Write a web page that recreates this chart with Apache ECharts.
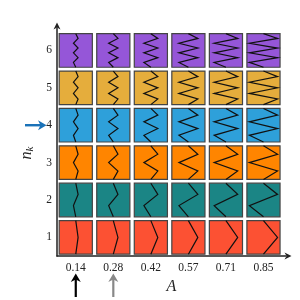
<!DOCTYPE html>
<html>
<head>
<meta charset="utf-8">
<script src="https://cdn.jsdelivr.net/npm/echarts@6/dist/echarts.min.js"></script>
<style>html,body{margin:0;padding:0;background:#fff}#c{width:300px;height:300px}</style>
</head>
<body>
<div id="c"></div>
<script>
// ---- data ----
const A_values = [0.14, 0.28, 0.42, 0.57, 0.71, 0.85];
const A_labels = ['0.14', '0.28', '0.42', '0.57', '0.71', '0.85'];
const n_values = [1, 2, 3, 4, 5, 6];
const n_labels = ['1', '2', '3', '4', '5', '6'];
const rowColors = ['#FC5133', '#1B8585', '#FF8500', '#2EA0DA', '#E5AD3C', '#9556D8'];
const markedRow = 4;            // n_k marked by the blue arrow
const markedCols = [0.14, 0.28]; // A values marked by arrows below
const markedColColors = ['#000000', '#888888'];

const cells = [];
A_values.forEach((a, i) => {
  n_values.forEach((n, j) => {
    cells.push([i, j, n, a]);
  });
});

const serif = "'Liberation Serif', 'DejaVu Serif', serif";
const chart = echarts.init(document.getElementById('c'), null, {renderer: 'canvas'});
const arrowPath = 'path://M5,0 L10,10 L5,7 L0,10 Z';

chart.setOption({
  animation: false,
  grid: {left: 57, right: 14, top: 28, bottom: 42},
  xAxis: {
    type: 'value', min: -0.5, max: 5.6,
    splitLine: {show: false},
    axisTick: {show: false},
    axisLine: {show: true, onZero: false, lineStyle: {color: '#222', width: 1.5}, symbol: ['none', arrowPath], symbolSize: [7, 8], symbolOffset: [0, 2]},
    axisLabel: {customValues: [0, 1, 2, 3, 4, 5], formatter: v => A_labels[Math.round(v)], fontFamily: serif, fontSize: 11.5, color: '#222', margin: 6},
    name: 'A', nameLocation: 'middle', nameGap: 22,
    nameTextStyle: {fontFamily: serif, fontStyle: 'italic', fontSize: 16, color: '#222'}
  },
  yAxis: {
    type: 'value', min: -0.5, max: 5.6,
    splitLine: {show: false},
    axisTick: {show: false},
    axisLine: {show: true, onZero: false, lineStyle: {color: '#222', width: 1.5}, symbol: ['none', arrowPath], symbolSize: [7, 8], symbolOffset: [0, 2]},
    axisLabel: {customValues: [0, 1, 2, 3, 4, 5], formatter: v => n_labels[Math.round(v)], fontFamily: serif, fontSize: 11.5, color: '#222', margin: 5},
    name: '{n|n}{k|k}', nameLocation: 'middle', nameGap: 17, nameRotate: 90,
    nameTextStyle: {
      padding: [0, 22, 0, 0],
      rich: {
        n: {fontFamily: serif, fontStyle: 'italic', fontSize: 16, color: '#222', lineHeight: 18, verticalAlign: 'middle'},
        k: {fontFamily: serif, fontStyle: 'italic', fontSize: 11, color: '#222', lineHeight: 18, verticalAlign: 'bottom', padding: [6, 0, 0, 0]}
      }
    }
  },
  series: [{
    type: 'custom',
    coordinateSystem: 'cartesian2d',
    data: cells,
    encode: {x: 0, y: 1},
    renderItem: function (params, api) {
      const col = api.value(0), row = api.value(1);
      const n = api.value(2), A = api.value(3);
      const c = api.coord([col, row]);
      const s = api.size([1, 1]);
      const w = s[0] - 4.4, h = s[1] - 3.8;
      const x0 = c[0] - w / 2, y0 = c[1] - h / 2;
      const pts = [];
      for (let k = 0; k <= n + 1; k++) {
        const off = (k === 0 || k === n + 1) ? 0 : (k % 2 === 1 ? 1 : -1) * A * w / 2;
        pts.push([c[0] + off, y0 + h * k / (n + 1)]);
      }
      return {
        type: 'group',
        children: [
          {type: 'rect', shape: {x: x0, y: y0, width: w, height: h},
           style: {fill: rowColors[row], stroke: '#444', lineWidth: 1.2}},
          {type: 'polyline', shape: {points: pts},
           style: {stroke: '#111', lineWidth: 1.2, fill: null}}
        ]
      };
    }
  }]
});

// annotation arrows, positioned through the axes
const gr = [];
markedCols.forEach((a, idx) => {
  const ci = A_values.indexOf(a);
  const x = chart.convertToPixel({xAxisIndex: 0}, ci);
  const col = markedColColors[idx];
  gr.push({type: 'line', shape: {x1: x, y1: 297, x2: x, y2: 278}, style: {stroke: col, lineWidth: 2.2}});
  gr.push({type: 'polygon', shape: {points: [[x - 5, 282], [x, 273.5], [x + 5, 282], [x, 279.5]]}, style: {fill: col}});
});
const ri = n_values.indexOf(markedRow);
const yb = chart.convertToPixel({yAxisIndex: 0}, ri);
gr.push({type: 'line', shape: {x1: 25, y1: yb, x2: 42, y2: yb}, style: {stroke: '#1A72B8', lineWidth: 2.4}});
gr.push({type: 'polygon', shape: {points: [[38, yb - 5], [46.5, yb], [38, yb + 5], [40.5, yb]]}, style: {fill: '#1A72B8'}});
chart.setOption({graphic: gr});
</script>
</body>
</html>
